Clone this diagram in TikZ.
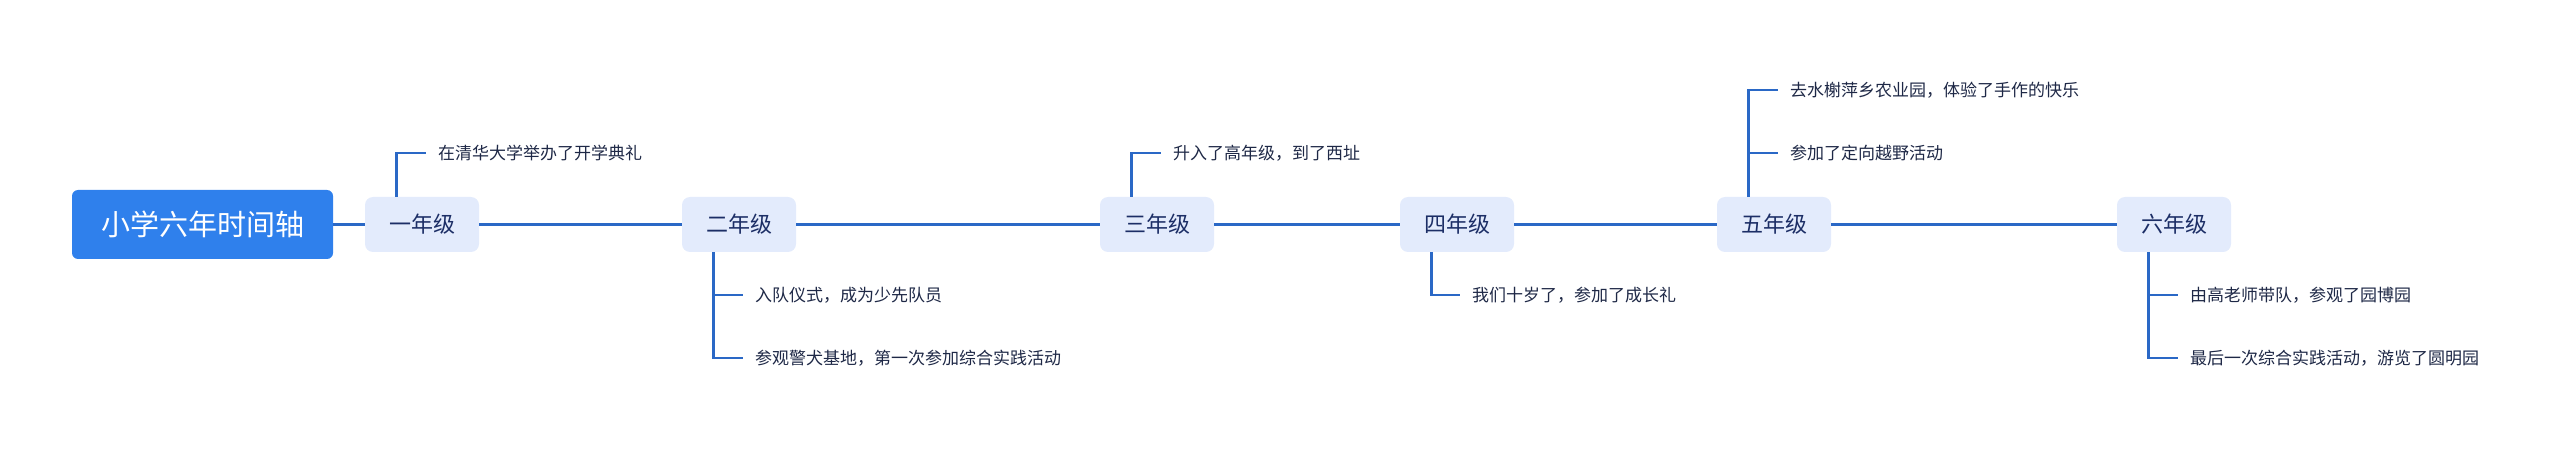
\documentclass[tikz,border=0pt]{standalone}
\usepackage{fontspec}
\setmainfont{Noto Sans CJK SC}
\definecolor{rootblue}{HTML}{2F80EC}
\definecolor{linkblue}{HTML}{2A68C6}
\definecolor{gradefill}{HTML}{E3EBFC}
\definecolor{gradetext}{HTML}{1C2E66}
\definecolor{notetext}{HTML}{1E2846}
\tikzset{
  rootbox/.style={fill=rootblue, rounded corners=6pt, minimum width=261pt,
    minimum height=69pt, text=white, font=\fontsize{29}{34}\selectfont},
  gradebox/.style={fill=gradefill, rounded corners=8pt, minimum width=114pt,
    minimum height=55pt, text=gradetext, font=\fontsize{22}{26}\selectfont},
  note/.style={anchor=west, inner xsep=0pt, text=notetext,
    font=\fontsize{17}{20}\selectfont},
  axis/.style={draw=linkblue, line width=3pt},
  branch/.style={draw=linkblue, line width=2.8pt}
}
\begin{document}
\begin{tikzpicture}[x=1pt, y=-1pt]
  \useasboundingbox (0,0) rectangle (2560,449);
  % root and grades
  \node[rootbox] (root) at (202.5,224.5) {小学六年时间轴};
  \node[gradebox] (g1) at (422,224.5) {一年级};
  \node[gradebox] (g2) at (739,224.5) {二年级};
  \node[gradebox] (g3) at (1157,224.5) {三年级};
  \node[gradebox] (g4) at (1457,224.5) {四年级};
  \node[gradebox] (g5) at (1774,224.5) {五年级};
  \node[gradebox] (g6) at (2174,224.5) {六年级};
  % axis
  \draw[axis] (root) -- (g1);
  \draw[axis] (g1) -- (g2);
  \draw[axis] (g2) -- (g3);
  \draw[axis] (g3) -- (g4);
  \draw[axis] (g4) -- (g5);
  \draw[axis] (g5) -- (g6);
  % notes
  \node[note] (n1a) at (438,153) {在清华大学举办了开学典礼};
  \node[note] (n2a) at (755,295) {入队仪式，成为少先队员};
  \node[note] (n2b) at (755,358) {参观警犬基地，第一次参加综合实践活动};
  \node[note] (n3a) at (1173,153) {升入了高年级，到了西址};
  \node[note] (n4a) at (1472,295) {我们十岁了，参加了成长礼};
  \node[note] (n5a) at (1790,90) {去水榭萍乡农业园，体验了手作的快乐};
  \node[note] (n5b) at (1790,153) {参加了定向越野活动};
  \node[note] (n6a) at (2190,295) {由高老师带队，参观了园博园};
  \node[note] (n6b) at (2190,358) {最后一次综合实践活动，游览了圆明园};
  % branches
  \draw[branch] ([xshift=31.5]g1.north west) |- ([xshift=-12]n1a.west);
  \draw[branch] ([xshift=31.5]g2.south west) |- ([xshift=-12]n2b.west);
  \draw[branch] ([xshift=31.5]g2.south west) |- ([xshift=-12]n2a.west);
  \draw[branch] ([xshift=31.5]g3.north west) |- ([xshift=-12]n3a.west);
  \draw[branch] ([xshift=31.5]g4.south west) |- ([xshift=-12]n4a.west);
  \draw[branch] ([xshift=31.5]g5.north west) |- ([xshift=-12]n5a.west);
  \draw[branch] ([xshift=31.5]g5.north west) |- ([xshift=-12]n5b.west);
  \draw[branch] ([xshift=31.5]g6.south west) |- ([xshift=-12]n6b.west);
  \draw[branch] ([xshift=31.5]g6.south west) |- ([xshift=-12]n6a.west);
\end{tikzpicture}
\end{document}
